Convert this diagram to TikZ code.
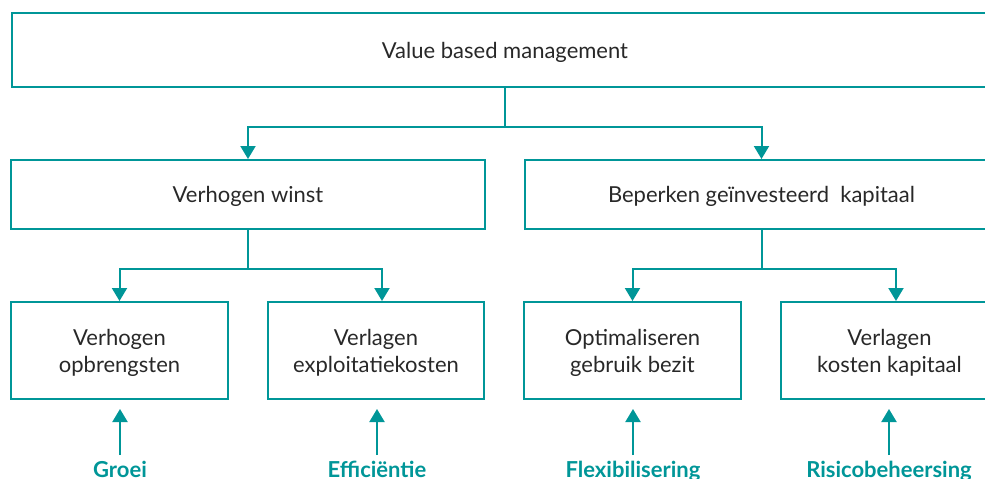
\documentclass[tikz,border=0pt]{standalone}
\usepackage{fontspec}
\setmainfont{Lato}
\usetikzlibrary{arrows.meta, positioning}
\definecolor{vbmteal}{RGB}{0,150,152}
\definecolor{vbmtext}{RGB}{40,40,40}

\begin{document}
\begin{tikzpicture}[x=1pt,y=-1pt,
  box/.style={draw=vbmteal,line width=2pt,rectangle,align=center,text=vbmtext,
    text depth=0pt,font=\fontsize{22}{27}\selectfont},
  lbl/.style={text=vbmteal,font=\fontsize{22}{24}\selectfont\bfseries,anchor=base},
  conn/.style={line width=2pt,draw=vbmteal},
  arr/.style={conn,-{Triangle[width=15pt,length=13pt]}}]
\clip (0,0) rectangle (985,479);
\node[box,minimum width=987pt,minimum height=74pt] (vbm) at (505,50) {Value based management};
\node[box,minimum width=474pt,minimum height=69pt] (winst) at (248,194.5) {Verhogen winst};
\node[box,minimum width=474pt,minimum height=69pt] (kapitaal) at (761.5,194.5) {Beperken geïnvesteerd\ \ kapitaal};
\node[box,minimum width=217pt,minimum height=97pt] (opbr) at (119.5,350.5) {Verhogen\\opbrengsten};
\node[box,minimum width=216pt,minimum height=97pt] (expl) at (376,350.5) {Verlagen\\exploitatiekosten};
\node[box,minimum width=217pt,minimum height=97pt] (bezit) at (632.5,350.5) {Optimaliseren\\gebruik bezit};
\node[box,minimum width=217pt,minimum height=97pt] (kosten) at (889.5,350.5) {Verlagen\\kosten kapitaal};
\node[lbl] (groei) at (120,477) {Groei};
\node[lbl] (effic) at (377,477) {Efficiëntie};
\node[lbl] (flex) at (633,477) {Flexibilisering};
\node[lbl] (risico) at (889,477) {Risicobeheersing};

\path[conn] (vbm.south) -- ++(0,39) coordinate (split1);
\path[arr] (split1) -| (winst.north);
\path[arr] (split1) -| (kapitaal.north);
\path[conn] (winst.south) -- ++(0,39) coordinate (split2);
\path[arr] (split2) -| (opbr.north);
\path[arr] (split2) -| ([xshift=6pt]expl.north);
\path[conn] (kapitaal.south) -- ++(0,39) coordinate (split3);
\path[arr] (split3) -| (bezit.north);
\path[arr] (split3) -| ([xshift=6.5pt]kosten.north);

\path[arr,shorten <=2pt,shorten >=9pt] (groei.north) -- (groei.north |- opbr.south);
\path[arr,shorten <=2pt,shorten >=9pt] (effic.north) -- (effic.north |- expl.south);
\path[arr,shorten <=2pt,shorten >=9pt] (flex.north) -- (flex.north |- bezit.south);
\path[arr,shorten <=2pt,shorten >=9pt] (risico.north) -- (risico.north |- kosten.south);
\end{tikzpicture}
\end{document}
